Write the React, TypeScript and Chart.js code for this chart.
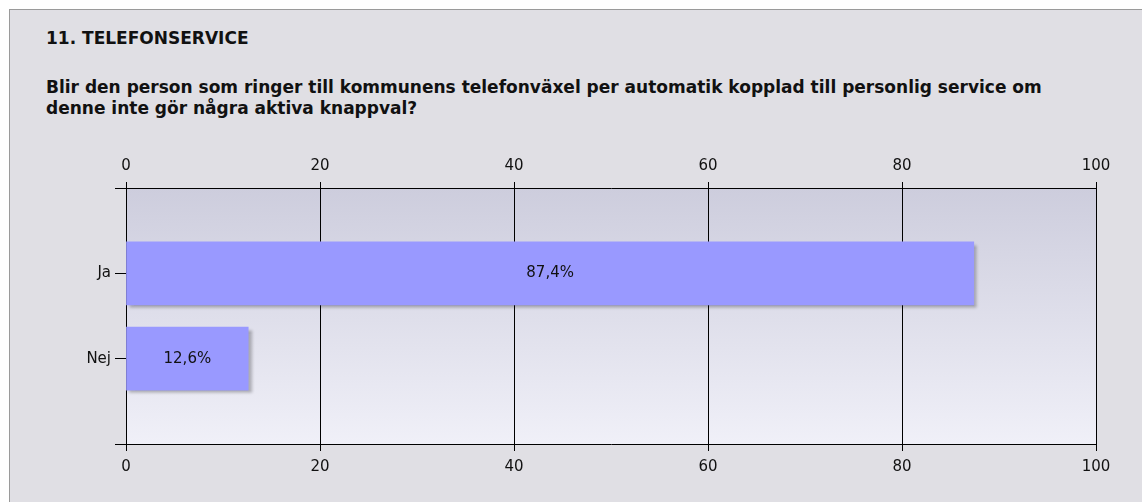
import React, { useEffect, useRef } from 'react';
import { Chart, registerables } from 'chart.js';

Chart.register(...registerables);

const titleText = '11. TELEFONSERVICE';
const questionLines = [
  'Blir den person som ringer till kommunens telefonväxel per automatik kopplad till personlig service om',
  'denne inte gör några aktiva knappval?',
];
const categories = ['', 'Ja', 'Nej', ''];
const percentValues: (number | null)[] = [null, 87.4, 12.6, null];
const xTickValues = [0, 20, 40, 60, 80, 100];

const FONT = '"DejaVu Sans", Verdana, sans-serif';

export default function App() {
  const canvasRef = useRef<HTMLCanvasElement | null>(null);

  useEffect(() => {
    const canvas = canvasRef.current;
    if (!canvas) return;

    const bgPlugin = {
      id: 'plotBg',
      beforeDraw(chart: any) {
        const { ctx, chartArea } = chart;
        const g = ctx.createLinearGradient(0, chartArea.top, 0, chartArea.bottom);
        g.addColorStop(0, '#cdcddd');
        g.addColorStop(1, '#f0f0f8');
        ctx.save();
        ctx.fillStyle = g;
        ctx.fillRect(chartArea.left, chartArea.top, chartArea.right - chartArea.left, chartArea.bottom - chartArea.top);
        ctx.restore();
      },
    };

    const shadowLabelPlugin = {
      id: 'shadowLabels',
      beforeDatasetsDraw(chart: any) {
        const ctx = chart.ctx;
        ctx.save();
        ctx.shadowColor = 'rgba(0,0,0,0.28)';
        ctx.shadowOffsetX = 3;
        ctx.shadowOffsetY = 3;
        ctx.shadowBlur = 3;
      },
      afterDatasetsDraw(chart: any) {
        const ctx = chart.ctx;
        ctx.restore();
        const meta = chart.getDatasetMeta(0);
        ctx.save();
        ctx.font = `15px ${FONT}`;
        ctx.fillStyle = '#111';
        ctx.textAlign = 'center';
        ctx.textBaseline = 'middle';
        meta.data.forEach((bar: any, i: number) => {
          const v = percentValues[i];
          if (v == null) return;
          const { x, y, base } = bar.getProps(['x', 'y', 'base'], true);
          ctx.fillText(v.toFixed(1).replace('.', ',') + '%', (x + base) / 2, y);
        });
        ctx.restore();
      },
    };

    const tickFont = { family: FONT, size: 15 };

    const chart = new Chart(canvas, {
      type: 'bar',
      data: {
        labels: categories,
        datasets: [
          {
            data: percentValues,
            backgroundColor: '#9999ff',
            borderWidth: 0,
            barThickness: 63,
            xAxisID: 'x',
            yAxisID: 'y',
          },
        ],
      },
      options: {
        indexAxis: 'y',
        animation: false,
        responsive: false,
        devicePixelRatio: 1,
        layout: { padding: { left: 0, right: 46, top: 0, bottom: 0 } },
        plugins: {
          legend: { display: false },
          tooltip: { enabled: false },
          title: { display: false },
        },
        scales: {
          x: {
            type: 'linear',
            position: 'bottom',
            min: 0,
            max: 100,
            afterBuildTicks: (axis: any) => {
              axis.ticks = xTickValues.map((v) => ({ value: v }));
            },
            afterFit: (scale: any) => {
              scale.height = 58;
            },
            grid: { drawOnChartArea: false, drawTicks: true, tickLength: 7, color: '#000', lineWidth: 1 },
            border: { display: true, color: '#000', width: 1 },
            ticks: { font: tickFont, color: '#111', padding: 7, maxRotation: 0 },
          },
          x2: {
            type: 'linear',
            position: 'top',
            axis: 'x',
            min: 0,
            max: 100,
            afterBuildTicks: (axis: any) => {
              axis.ticks = xTickValues.map((v) => ({ value: v }));
            },
            afterFit: (scale: any) => {
              scale.height = 188;
            },
            grid: { drawOnChartArea: true, drawTicks: true, tickLength: 6, color: '#000', lineWidth: 1 },
            border: { display: true, color: '#000', width: 1 },
            ticks: { font: tickFont, color: '#111', padding: 7, maxRotation: 0 },
          },
          y: {
            type: 'category',
            offset: false,
            afterFit: (scale: any) => {
              scale.width = 126;
            },
            grid: { offset: false, drawOnChartArea: false, drawTicks: true, tickLength: 11, color: '#000', lineWidth: 1 },
            border: { display: true, color: '#000', width: 1 },
            ticks: { font: tickFont, color: '#111', padding: 4, autoSkip: false },
          },
        },
      } as any,
      plugins: [bgPlugin, shadowLabelPlugin],
    });

    return () => chart.destroy();
  }, []);

  return (
    <div style={{ position: 'absolute', left: 0, top: 0, width: 1142, height: 502, overflow: 'hidden', background: '#fff' }}>
      <div
        style={{
          position: 'absolute',
          left: 9,
          top: 9,
          width: 1300,
          height: 700,
          border: '1px solid #9a9a9a',
          background: '#e0dfe4',
        }}
      />
      <div
        style={{
          position: 'absolute',
          left: 46,
          top: 28,
          font: `bold 17px ${FONT}`,
          lineHeight: '20px',
          color: '#111',
          whiteSpace: 'nowrap',
        }}
      >
        {titleText}
      </div>
      <div
        style={{
          position: 'absolute',
          left: 46,
          top: 77,
          font: `bold 17px ${FONT}`,
          lineHeight: '21px',
          color: '#111',
          whiteSpace: 'nowrap',
        }}
      >
        {questionLines.map((l, i) => (
          <div key={i}>{l}</div>
        ))}
      </div>
      <canvas ref={canvasRef} width={1142} height={502} style={{ position: 'absolute', left: 0, top: 0, width: 1142, height: 502 }} />
    </div>
  );
}
